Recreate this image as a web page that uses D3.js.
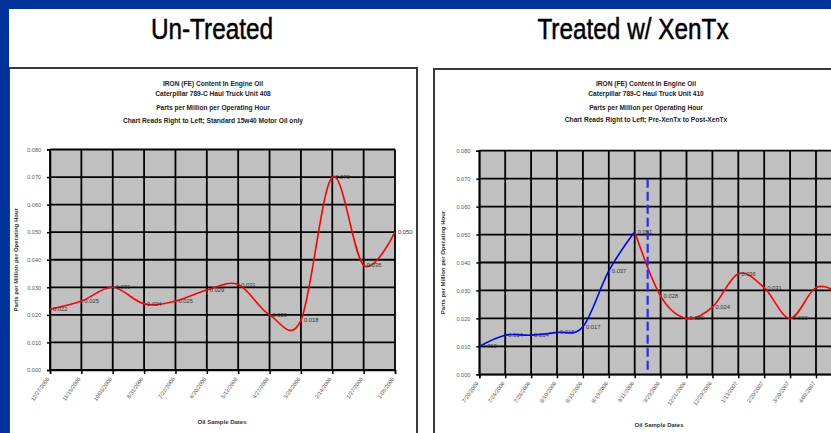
<!DOCTYPE html>
<html>
<head>
<meta charset="utf-8">
<script src="https://cdn.jsdelivr.net/npm/d3@7/dist/d3.min.js"></script>
<style>
  html, body { margin: 0; padding: 0; background: #ffffff; overflow: hidden; }
  svg { display: block; }
  text { font-family: "Liberation Sans", Arial, sans-serif; }
</style>
</head>
<body>
<svg id="chart" width="831" height="433"></svg>
<script>
// ---------- DATA ----------
const panelTitles = ["Un-Treated", "Treated w/ XenTx"];

const leftTitleLines = [
  "IRON (FE) Content In Engine Oil",
  "Caterpillar 789-C Haul Truck Unit 408",
  "Parts per Million per Operating  Hour",
  "Chart Reads Right to Left; Standard 15w40 Motor Oil only"
];
const rightTitleLines = [
  "IRON (FE) Content In Engine Oil",
  "Caterpillar 789-C Haul Truck Unit 410",
  "Parts per Million per Operating  Hour",
  "Chart Reads Right to Left; Pre-XenTx to Post-XenTx"
];

const leftDates = ["12/27/2006", "11/15/2006", "10/03/2006", "8/31/2006", "7/22/2006", "6/20/2006",
                   "5/12/2006", "4/27/2006", "3/28/2006", "2/14/2006", "1/27/2006", "1/05/2006"];
const leftValues = [0.022, 0.025, 0.030, 0.024, 0.025, 0.029, 0.031, 0.020, 0.018, 0.070, 0.038, 0.050];

const rightDates = ["7/20/2006", "7/24/2006", "7/28/2006", "8/10/2006", "8/15/2006", "8/19/2006",
                    "9/11/2006", "9/29/2006", "12/21/2006", "12/29/2006", "1/13/2007", "2/20/2007",
                    "3/20/2007", "4/02/2007", "4/14/2007", "5/01/2007"];
const preXenTx  = [0.010, 0.014, 0.014, 0.015, 0.017, 0.037, 0.051];          // indices 0..6
const postXenTx = [0.051, 0.028, 0.020, 0.024, 0.036, 0.031, 0.020, 0.031, 0.029, 0.026]; // indices 6..15
const postStart = 6;
const switchPoint = 6.5;      // dashed marker between samples 6 and 7
const switchTop = 0.070;

const yTicks = [0, 0.01, 0.02, 0.03, 0.04, 0.05, 0.06, 0.07, 0.08];
const yMax = 0.08;
const yAxisTitle = "Parts per Million per Operating Hour";
const xAxisTitle = "Oil Sample Dates";

// ---------- DRAW ----------
const VIEW_W = 831;
const svg = d3.select("#chart");
svg.append("rect").attr("width", 831).attr("height", 433).attr("fill", "#ffffff");

// panel titles (condensed to mimic a narrow face)
[[212, panelTitles[0]], [633, panelTitles[1]]].forEach(([cx, t]) => {
  svg.append("text").attr("transform", `translate(${cx},39) scale(0.84,1)`)
    .attr("text-anchor", "middle")
    .style("font-size", "29px").attr("fill", "#000")
    .attr("stroke", "#000").attr("stroke-width", 0.5)
    .text(t);
});

function drawPanel(cfg) {
  const g = svg.append("g");
  g.append("rect").attr("x", cfg.box.x).attr("y", cfg.box.y)
    .attr("width", cfg.box.w).attr("height", cfg.box.h)
    .attr("fill", "#ffffff").attr("stroke", "#3a3a3a").attr("stroke-width", 2);

  cfg.titleLines.forEach((t, i) => {
    g.append("text").attr("x", cfg.titleX).attr("y", cfg.titleY[i])
      .attr("text-anchor", "middle").style("font-size", "6.6px").style("font-weight", "bold")
      .attr("fill", "#222").text(t);
  });

  const x = d3.scalePoint().domain(d3.range(cfg.dates.length)).range([cfg.x0, cfg.x1]);
  const y = d3.scaleLinear().domain([0, yMax]).range([cfg.y1, cfg.y0]);

  g.append("rect").attr("x", cfg.x0).attr("y", cfg.y0)
    .attr("width", cfg.x1 - cfg.x0).attr("height", cfg.y1 - cfg.y0).attr("fill", "#c0c0c0");

  g.append("g").selectAll("line").data(yTicks).join("line")
    .attr("x1", cfg.x0).attr("x2", cfg.x1).attr("y1", d => y(d)).attr("y2", d => y(d))
    .attr("stroke", "#000").attr("stroke-width", 1.8);
  g.append("g").selectAll("line").data(d3.range(cfg.dates.length)).join("line")
    .attr("x1", d => x(d)).attr("x2", d => x(d)).attr("y1", cfg.y0).attr("y2", cfg.y1)
    .attr("stroke", "#000").attr("stroke-width", 1.8);

  const ya = g.append("g").attr("transform", `translate(${cfg.x0},0)`)
    .call(d3.axisLeft(y).tickValues(yTicks).tickFormat(d3.format(".3f")).tickSize(3).tickPadding(cfg.yPad));
  ya.select(".domain").attr("stroke", "#000").attr("stroke-width", 1.5);
  ya.selectAll(".tick line").attr("stroke", "#000").attr("stroke-width", 1.5);
  ya.selectAll("text").style("font-size", "5.5px").attr("fill", "#555")
    .style("font-family", "'Liberation Sans', Arial, sans-serif");

  const xa = g.append("g").attr("transform", `translate(0,${cfg.y1})`)
    .call(d3.axisBottom(x).tickSize(4).tickFormat(""));
  xa.select(".domain").attr("stroke", "#000").attr("stroke-width", 1.5);
  xa.selectAll(".tick line").attr("stroke", "#000").attr("stroke-width", 1.5);
  xa.selectAll(".tick").filter(d => x(d) < VIEW_W - 4).append("text")
    .attr("transform", "translate(-1,9) rotate(-55)")
    .attr("text-anchor", "end").attr("fill", "#555")
    .style("font-size", "5.5px")
    .text(d => cfg.dates[d]);

  g.append("text").attr("transform", `translate(${cfg.yTitleX},${(cfg.y0 + cfg.y1) / 2}) rotate(-90)`)
    .attr("text-anchor", "middle").style("font-size", "6px").style("font-weight", "bold")
    .attr("fill", "#333").text(yAxisTitle);
  g.append("text").attr("x", cfg.xTitleX).attr("y", cfg.xTitleY).attr("text-anchor", "middle")
    .style("font-size", "6px").style("font-weight", "bold").attr("fill", "#333").text(xAxisTitle);

  return { g, x, y };
}

function drawSeries(p, values, startIdx, color) {
  const pts = values.map((v, i) => [startIdx + i, v]);
  const line = d3.line().x(d => p.x(d[0])).y(d => p.y(d[1])).curve(d3.curveCatmullRom.alpha(0));
  p.g.append("path").datum(pts).attr("d", line).attr("fill", "none")
    .attr("stroke", color).attr("stroke-width", 1.6);
}

function drawLabels(p, values, startIdx, skipFirst) {
  const pts = values.map((v, i) => [startIdx + i, v])
    .filter((d, i) => !(skipFirst && i === 0))
    .filter(d => p.x(d[0]) + 20 < VIEW_W);
  p.g.append("g").selectAll("text").data(pts).join("text")
    .attr("x", d => p.x(d[0]) + 3).attr("y", d => p.y(d[1]) + 2)
    .style("font-size", "5.8px").attr("fill", "#333")
    .text(d => d3.format(".3f")(d[1]));
}

const left = drawPanel({
  box: { x: 9, y: 68, w: 408, h: 400 },
  titleLines: leftTitleLines, titleX: 213, titleY: [86, 96, 110, 123],
  dates: leftDates, x0: 50, x1: 395, y0: 149.5, y1: 370, yPad: 6,
  yTitleX: 18, xTitleX: 222, xTitleY: 424
});
drawSeries(left, leftValues, 0, "#ff0000");
drawLabels(left, leftValues, 0, false);

const right = drawPanel({
  box: { x: 434, y: 69, w: 440, h: 400 },
  titleLines: rightTitleLines, titleX: 646, titleY: [86, 95.5, 110, 121.5],
  dates: rightDates, x0: 479.3, x1: 479.3 + 15 * 25.9, y0: 150.7, y1: 374.3, yPad: 6,
  yTitleX: 445, xTitleX: 659, xTitleY: 427
});
drawSeries(right, postXenTx, postStart, "#ff0000");
drawSeries(right, preXenTx, 0, "#0000ff");
drawLabels(right, preXenTx, 0, false);
drawLabels(right, postXenTx, postStart, true);

const sx = right.x(6) + (right.x(7) - right.x(6)) * (switchPoint - 6);
right.g.append("line").attr("x1", sx).attr("x2", sx)
  .attr("y1", right.y(switchTop)).attr("y2", right.y(0))
  .attr("stroke", "#2a2aff").attr("stroke-width", 2.2).attr("stroke-dasharray", "9,4");

svg.append("rect").attr("x", 0).attr("y", 0).attr("width", 831).attr("height", 9).attr("fill", "#003399");
svg.append("rect").attr("x", 0).attr("y", 0).attr("width", 9).attr("height", 433).attr("fill", "#003399");
</script>
</body>
</html>
